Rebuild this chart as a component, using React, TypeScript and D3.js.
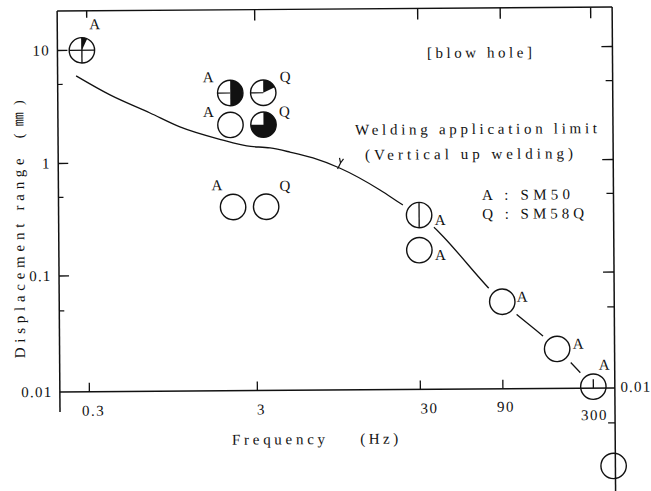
import React from 'react';
import * as d3 from 'd3';

// ---------- data ----------
const xTickValues = [0.3, 3, 30, 90, 300];
const xTickLabels = ['0.3', '3', '30', '90', '300'];
const xScaleKnots = [0.3, 3, 30, 300];
const yTickValues = [10, 1, 0.1, 0.01];
const yTickLabels = ['10', '1', '0.1', '0.01'];
const yScaleKnots = [0.01, 0.1, 1, 10];
const yMinorLeft = [5, 0.5, 0.05];
const yMinorRight = [5, 0.5, 0.05, 0.005];
const yMajorRight = [10, 1, 0.1];

// Welding application limit curve (Hz, mm)
const limitFreq = [0.258, 0.41, 0.708, 1.065, 1.89, 2.66, 3.68, 4.87, 6.74, 9.8, 17.3, 23.9, 30, 90, 186, 300];
const limitDisp = [5.94, 4.01, 2.76, 2.07, 1.58, 1.39, 1.33, 1.22, 1.08, 0.875, 0.555, 0.406, 0.33, 0.056, 0.022, 0.0103];

// test points
const pointFreq = [0.28, 2.13, 3.36, 2.13, 3.36, 2.19, 3.46, 30, 30, 90, 186, 300, 390];
const pointDisp = [10, 4.1, 4.1, 2.14, 2.14, 0.4, 0.4, 0.33, 0.161, 0.0563, 0.0219, 0.0103, 0.00213];
const pointSteel = ['A', 'A', 'Q', 'A', 'Q', 'A', 'Q', 'A', 'A', 'A', 'A', 'A', ''];
const pointBlackDeg = [25, 180, 65, 0, 270, 0, 0, 0, 0, 0, 0, 0, 0];
const pointMark = ['cross', 'left', 'left', '', '', '', '', 'vertical', '', '', '', '', ''];
const pointOnLimit = [false, false, false, false, false, false, false, true, false, true, true, true, false];

const arrowFreq = 9.8;
const arrowDisp = 0.875;

// ---------- layout ----------
const W = 651;
const H = 491;
const L = 58.5;
const R = 613.5;
const T = 9;
const B = 390;
const RAD = 12.7;
const labelOffsets = [[13, -26], [-22, -16], [22, -16], [-22, -13], [21, -13], [-16, -22], [19, -21], [21, 5], [21, 5], [20, -5], [21, -5], [11, -22], [0, 0]];
const xLabelDx = [4, 4, 9, 3, 1];
const xLabelDy = [0, 0, 0, -1, 8];

const FONT = "'Liberation Serif','DejaVu Serif','Noto Sans CJK JP',serif";
const INK = '#111';

export default function App() {
  const x = d3.scaleLog().domain(xScaleKnots).range([88, 256, 419, 592]);
  const y = d3.scaleLog().domain(yScaleKnots).range([390, 274, 161.5, 48.5]);

  const line = d3
    .line<number>()
    .x((i) => x(limitFreq[i]))
    .y((i) => y(limitDisp[i]))
    .curve(d3.curveMonotoneX);
  const curvePath = line(d3.range(limitFreq.length)) || '';

  const arc = d3.arc<any>();

  const ax = x(arrowFreq);
  const ay = y(arrowDisp);

  return (
    <svg
      width={W}
      height={H}
      style={{ position: 'absolute', left: 0, top: 0, background: '#fff' }}
      fontFamily={FONT}
    >
      <rect width={W} height={H} fill="#fff" />
      <g transform="rotate(-0.41 335 200)">
        {/* limit curve */}
        <path d={curvePath} fill="none" stroke={INK} strokeWidth={1.3} />
        {/* arrow mark on curve */}
        <path
          d={`M${ax - 2},${ay + 1} L${ax + 1},${ay - 5} M${ax + 1},${ay - 5} L${ax},${ay - 10} M${ax + 1},${ay - 5} L${ax + 4},${ay - 9}`}
          fill="none"
          stroke={INK}
          strokeWidth={1.2}
        />
        {/* halos that break the limit line at circles */}
        {pointFreq.map((f, i) =>
          pointOnLimit[i] ? (
            <circle key={'h' + i} cx={x(f)} cy={y(pointDisp[i])} r={RAD + 6.5} fill="#fff" />
          ) : null
        )}

        {/* frame */}
        <line x1={L} y1={T} x2={L} y2={410} stroke={INK} strokeWidth={1.5} />
        <line x1={L} y1={T} x2={R} y2={T} stroke={INK} strokeWidth={1.3} />
        <line x1={R} y1={T} x2={R} y2={H + 5} stroke={INK} strokeWidth={1.5} />
        <line x1={L} y1={B} x2={R} y2={B} stroke={INK} strokeWidth={1.5} />

        {/* x ticks bottom and top */}
        {xTickValues.map((v, i) => (
          <g key={'xt' + i}>
            <line x1={x(v)} y1={B} x2={x(v)} y2={B - 9} stroke={INK} strokeWidth={1.3} />
            <line x1={x(v)} y1={T} x2={x(v)} y2={T + (i === 0 ? 7 : 11)} stroke={INK} strokeWidth={1.4} />
            <text
              x={x(v) + xLabelDx[i]}
              y={B + 24 + xLabelDy[i]}
              textAnchor="middle"
              fontSize={15}
              letterSpacing={1.5}
              fill={INK}
            >
              {xTickLabels[i]}
            </text>
          </g>
        ))}

        {/* y ticks left */}
        {yTickValues.map((v, i) => (
          <g key={'yt' + i}>
            {v !== 0.01 && <line x1={L} y1={y(v)} x2={L + 10} y2={y(v)} stroke={INK} strokeWidth={1.3} />}
            <text x={51} y={y(v) + 5} textAnchor="end" fontSize={15} letterSpacing={1.2} fill={INK}>
              {yTickLabels[i]}
            </text>
          </g>
        ))}
        {yMinorLeft.map((v, i) => (
          <line key={'ym' + i} x1={L} y1={y(v)} x2={L + 5} y2={y(v)} stroke={INK} strokeWidth={1.2} />
        ))}
        {/* y ticks right */}
        {yMajorRight.map((v, i) => (
          <line key={'yr' + i} x1={R} y1={y(v)} x2={R - 11} y2={y(v)} stroke={INK} strokeWidth={1.3} />
        ))}
        {yMinorRight.map((v, i) => (
          <line key={'yrm' + i} x1={R} y1={y(v)} x2={R - 7} y2={y(v)} stroke={INK} strokeWidth={1.2} />
        ))}
        <text x={619} y={394} fontSize={15} letterSpacing={1.2} fill={INK}>
          0.01
        </text>

        {/* symbols */}
        {pointFreq.map((f, i) => {
          const cx = x(f);
          const cy = y(pointDisp[i]);
          const deg = pointBlackDeg[i];
          return (
            <g key={'p' + i} transform={`translate(${cx},${cy})`}>
              {deg > 0 && (
                <path
                  d={arc({ innerRadius: 0, outerRadius: RAD, startAngle: 0, endAngle: (deg * Math.PI) / 180 }) || ''}
                  fill={INK}
                />
              )}
              {pointMark[i] === 'cross' && (
                <g stroke={INK} strokeWidth={1.3}>
                  <line x1={-RAD} y1={0} x2={RAD} y2={0} />
                  <line x1={0} y1={-RAD} x2={0} y2={RAD} />
                </g>
              )}
              {pointMark[i] === 'left' && (
                <line x1={-RAD} y1={0} x2={0} y2={0} stroke={INK} strokeWidth={1.2} />
              )}
              {pointMark[i] === 'vertical' && (
                <line x1={0} y1={-RAD} x2={0} y2={RAD} stroke={INK} strokeWidth={1.3} />
              )}
              <circle r={RAD} fill="none" stroke={INK} strokeWidth={1.4} />
              {pointSteel[i] && (
                <text
                  x={labelOffsets[i][0]}
                  y={labelOffsets[i][1] + 5}
                  textAnchor="middle"
                  fontSize={15}
                  fill={INK}
                >
                  {pointSteel[i]}
                </text>
              )}
            </g>
          );
        })}

        {/* annotations */}
        <text x={428} y={58.7} fontSize={15} textLength={105} lengthAdjust="spacing" fill={INK}>
          [blow hole]
        </text>
        <text x={355.5} y={135} fontSize={15} textLength={242} lengthAdjust="spacing" fill={INK}>
          Welding application limit
        </text>
        <text x={365.3} y={160} fontSize={15} textLength={208} lengthAdjust="spacing" fill={INK}>
          (Vertical up welding)
        </text>
        <text x={482} y={201} fontSize={15} textLength={88} lengthAdjust="spacing" fill={INK}>
          A : SM50
        </text>
        <text x={482} y={220} fontSize={15} textLength={102} lengthAdjust="spacing" fill={INK}>
          Q : SM58Q
        </text>

        {/* axis titles */}
        <text x={230.3} y={444} fontSize={15} textLength={93} lengthAdjust="spacing" fill={INK}>
          Frequency
        </text>
        <text x={358.4} y={444} fontSize={15} textLength={38} lengthAdjust="spacing" fill={INK}>
          (Hz)
        </text>
        <text
          transform="translate(24,356) rotate(-90)"
          fontSize={15}
          textLength={200}
          lengthAdjust="spacing"
          fill={INK}
        >
          Displacement range
        </text>
        <text
          transform="translate(24,136) rotate(-90)"
          fontSize={14}
          textLength={38}
          lengthAdjust="spacing"
          fill={INK}
        >
          (㎜)
        </text>
      </g>
    </svg>
  );
}
